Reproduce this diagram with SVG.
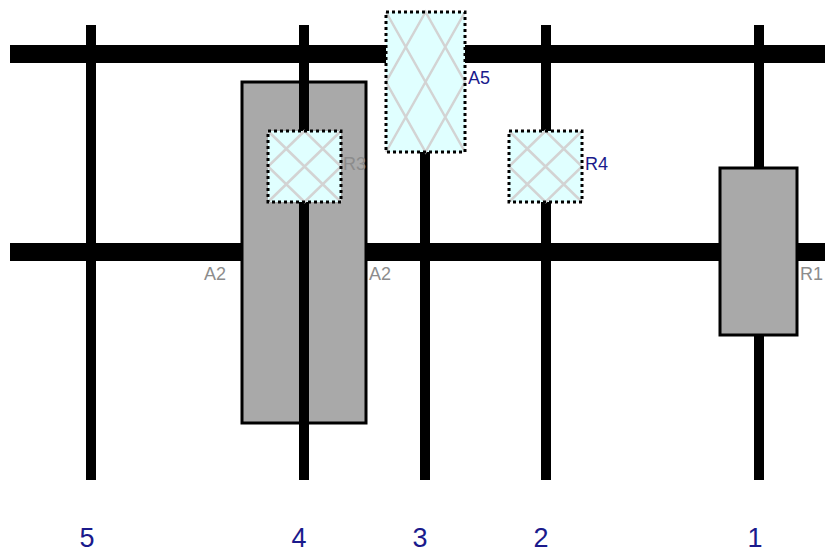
<svg xmlns="http://www.w3.org/2000/svg" width="825" height="552" viewBox="0 0 825 552">
  <defs>
    <style>
      .bar { fill: #000; }
      .post { stroke: #000; stroke-width: 10; }
      .block { fill: #a9a9a9; stroke: #000; stroke-width: 3; }
      .tile { fill: #e0ffff; }
      .edge { fill: none; stroke: #000; stroke-width: 3; stroke-dasharray: 3 3; }
      .hatch { stroke: #d3d3d3; stroke-width: 2.5; fill: none; }
      .lbl { font-family: "Liberation Sans", Arial, sans-serif; font-size: 18px; }
      .grey { fill: #8c8c8c; }
      .navy { fill: #1a1a8c; }
      .num { font-family: "Liberation Sans", Arial, sans-serif; font-size: 27px; fill: #1a1a8c; text-anchor: middle; }
    </style>
  </defs>

  <!-- horizontal rails -->
  <g id="rails">
    <rect class="bar" x="10" y="45" width="815" height="18"/>
    <rect class="bar" x="10" y="243" width="815" height="18"/>
  </g>

  <!-- vertical posts -->
  <g id="connectors">
    <line class="post" x1="91" y1="25" x2="91" y2="480"/>
    <line class="post" x1="425" y1="25" x2="425" y2="480"/>
    <line class="post" x1="546" y1="25" x2="546" y2="480"/>
    <line class="post" x1="759" y1="25" x2="759" y2="480"/>
  </g>

  <g id="A2">
    <rect class="block" x="242" y="82" width="124" height="341"/>
    <line class="post" x1="304" y1="25" x2="304" y2="480"/>
    <text class="lbl grey" x="204" y="280">A2</text>
    <text class="lbl grey" x="369" y="280">A2</text>
  </g>

  <g id="R1">
    <rect class="block" x="720" y="168" width="77" height="167"/>
    <text class="lbl grey" x="800" y="280">R1</text>
  </g>

  <g id="A5">
    <rect class="tile" x="386" y="12" width="79" height="140"/>
    <path class="hatch" d="M386 12 L465 152 M465 12 L386 152 M425.5 12 L386 82 L425.5 152 L465 82 Z"/>
    <rect class="edge" x="386" y="12" width="79" height="140"/>
    <text class="lbl navy" x="468" y="84">A5</text>
  </g>

  <g id="R3">
    <rect class="tile" x="268" y="131" width="73" height="71"/>
    <path class="hatch" d="M268 131 L341 202 M341 131 L268 202 M304.5 131 L268 166.5 L304.5 202 L341 166.5 Z"/>
    <rect class="edge" x="268" y="131" width="73" height="71"/>
    <text class="lbl grey" x="343" y="170">R3</text>
  </g>

  <g id="R4">
    <rect class="tile" x="509" y="131" width="73" height="71"/>
    <path class="hatch" d="M509 131 L582 202 M582 131 L509 202 M545.5 131 L509 166.5 L545.5 202 L582 166.5 Z"/>
    <rect class="edge" x="509" y="131" width="73" height="71"/>
    <text class="lbl navy" x="585" y="170">R4</text>
  </g>

  <g id="axis-labels">
    <text class="num" x="87" y="547">5</text>
    <text class="num" x="299" y="547">4</text>
    <text class="num" x="420" y="547">3</text>
    <text class="num" x="541" y="547">2</text>
    <text class="num" x="755" y="547">1</text>
  </g>
</svg>
